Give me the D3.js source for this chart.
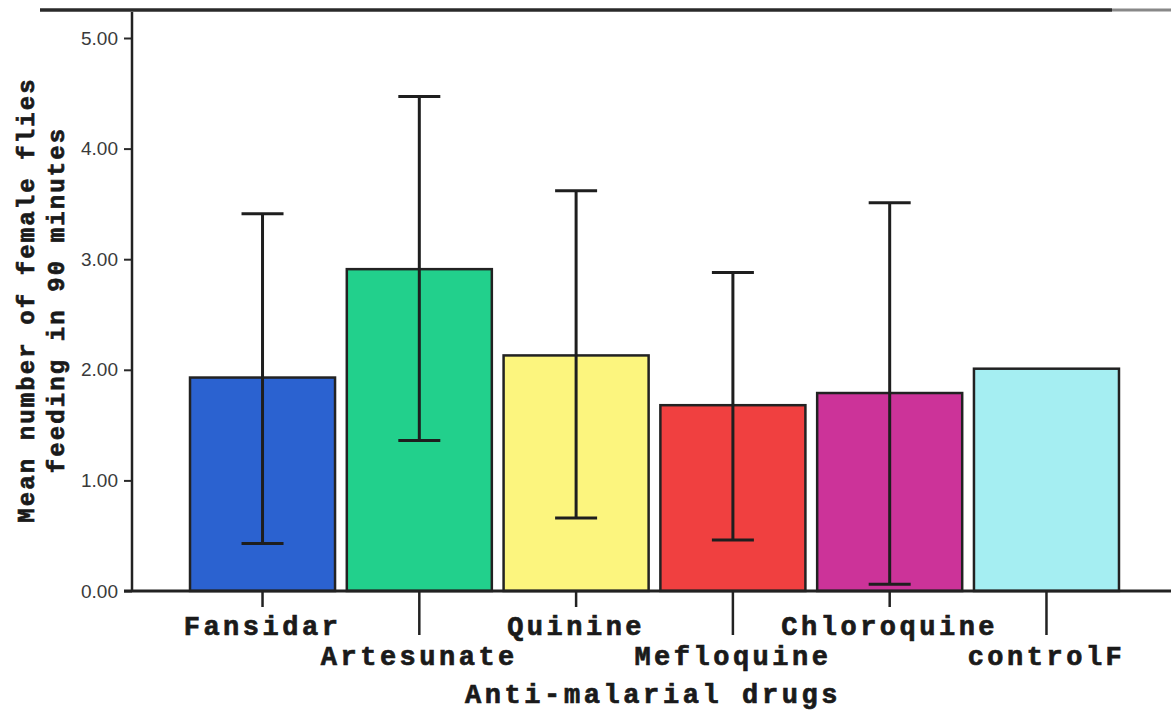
<!DOCTYPE html>
<html>
<head>
<meta charset="utf-8">
<script src="https://cdn.jsdelivr.net/npm/d3@7"></script>
<style>
  body { margin: 0; background: #fff; }
  svg { display: block; }
  .lab { font-family: "Courier New", "Liberation Mono", monospace; font-weight: bold; fill: #1a1a1a; stroke: #1a1a1a; stroke-width: 0.7px; }
  .tick-y text { font-family: Arial, "Liberation Sans", sans-serif; font-size: 19px; fill: #3a3a3a; }
</style>
</head>
<body>
<svg id="chart"></svg>
<script>
const drugs = ['Fansidar', 'Artesunate', 'Quinine', 'Mefloquine', 'Chloroquine', 'controlF'];
const means = [1.93, 2.91, 2.13, 1.68, 1.79, 2.01];
const lower = [0.43, 1.36, 0.66, 0.46, 0.06, null];
const upper = [3.41, 4.47, 3.62, 2.88, 3.51, null];
const colors = ['#2b62d0', '#22d08c', '#fcf57e', '#f04040', '#cc3399', '#a5eef2'];
const yTicks = [0, 1, 2, 3, 4, 5];

const width = 1171, height = 715;
const axisX = 132, axisY = 591;

const $svg = d3.select('#chart')
	.attr('width', width)
	.attr('height', height);

// scales
const scaleX = d3.scaleBand()
	.domain(drugs)
	.range([axisX, 1177])
	.paddingInner(0.075)
	.paddingOuter(0.37);

const scaleY = d3.scaleLinear()
	.domain([0, 5])
	.range([axisY, 38]);

// top frame line (cut off title above)
$svg.append('line')
	.attr('x1', 1112).attr('x2', width)
	.attr('y1', 10).attr('y2', 10)
	.style('stroke', '#888').style('stroke-width', 3);
$svg.append('line')
	.attr('x1', 40).attr('x2', 1112)
	.attr('y1', 10).attr('y2', 10)
	.style('stroke', '#2a2a2a').style('stroke-width', 3.5);

// bars
$svg.selectAll('.bar')
	.data(means)
	.enter()
	.append('rect')
	.attr('class', 'bar')
	.attr('x', (d, i) => scaleX(drugs[i]))
	.attr('y', d => scaleY(d))
	.attr('width', scaleX.bandwidth())
	.attr('height', d => scaleY(0) - scaleY(d))
	.style('fill', (d, i) => colors[i])
	.style('stroke', '#222')
	.style('stroke-width', 2.5);

// error bars
const errs = drugs.map((d, i) => ({drug: d, lo: lower[i], hi: upper[i]})).filter(d => d.lo !== null);
const $err = $svg.selectAll('.err')
	.data(errs)
	.enter()
	.append('g')
	.attr('class', 'err')
	.style('stroke', '#1e1e1e')
	.style('stroke-width', 3);
$err.append('line')
	.attr('x1', d => scaleX(d.drug) + scaleX.bandwidth() / 2)
	.attr('x2', d => scaleX(d.drug) + scaleX.bandwidth() / 2)
	.attr('y1', d => scaleY(d.lo))
	.attr('y2', d => scaleY(d.hi));
['lo', 'hi'].forEach(k => {
	$err.append('line')
		.attr('x1', d => scaleX(d.drug) + scaleX.bandwidth() / 2 - 21)
		.attr('x2', d => scaleX(d.drug) + scaleX.bandwidth() / 2 + 21)
		.attr('y1', d => scaleY(d[k]))
		.attr('y2', d => scaleY(d[k]));
});

// y axis
const $yAxis = $svg.append('g')
	.attr('class', 'tick-y')
	.attr('transform', 'translate(' + axisX + ',0)')
	.call(d3.axisLeft(scaleY).tickValues(yTicks).tickFormat(d3.format('.2f')).tickSize(8).tickPadding(6));
$yAxis.select('.domain').remove();
$yAxis.selectAll('line').style('stroke', '#2a2a2a').style('stroke-width', 2);
$svg.append('line')
	.attr('x1', axisX).attr('x2', axisX)
	.attr('y1', 12).attr('y2', axisY)
	.style('stroke', '#222').style('stroke-width', 2.5);

// x axis
$svg.append('line')
	.attr('x1', axisX - 8).attr('x2', width)
	.attr('y1', axisY).attr('y2', axisY)
	.style('stroke', '#222').style('stroke-width', 3);

const $xTicks = $svg.selectAll('.xtick')
	.data(drugs)
	.enter()
	.append('g')
	.attr('class', 'xtick')
	.attr('transform', d => 'translate(' + (scaleX(d) + scaleX.bandwidth() / 2) + ',' + axisY + ')');
$xTicks.append('line')
	.attr('y1', 0)
	.attr('y2', (d, i) => i % 2 ? 44 : 16)
	.style('stroke', '#222').style('stroke-width', 2.5);
$xTicks.append('text')
	.attr('class', 'lab')
	.attr('y', (d, i) => i % 2 ? 74 : 44)
	.attr('text-anchor', 'middle')
	.style('font-size', '27px')
	.style('letter-spacing', '3.5px')
	.text(d => d);

// axis titles
$svg.append('text')
	.attr('class', 'lab')
	.attr('x', 653).attr('y', 703)
	.attr('text-anchor', 'middle')
	.style('font-size', '27px')
	.style('letter-spacing', '3.6px')
	.text('Anti-malarial drugs');

const $yTitle = $svg.append('text')
	.attr('class', 'lab')
	.attr('transform', 'translate(34,300) rotate(-90)')
	.attr('text-anchor', 'middle')
	.style('font-size', '24px')
	.style('letter-spacing', '2.1px');
$yTitle.append('tspan').attr('x', 0).attr('y', 0).text('Mean number of female flies');
$yTitle.append('tspan').attr('x', 0).attr('y', 30).text('feeding in 90 minutes');
</script>
</body>
</html>
